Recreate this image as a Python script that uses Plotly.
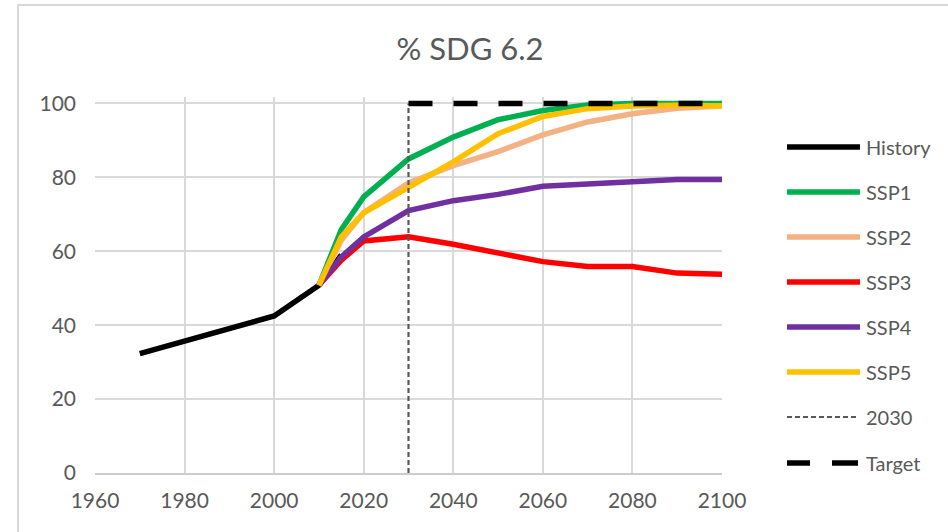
import plotly.graph_objects as go

# ---- data -------------------------------------------------------------
hist_years = [1970, 1980, 1990, 2000, 2010, 2015]
hist_vals = [32.3, 35.7, 39.1, 42.5, 50.8, 59.0]

ssp_years = [2010, 2015, 2020, 2030, 2040, 2050, 2060, 2070, 2080, 2090, 2100]
ssp1 = [50.8, 65.9, 74.7, 85.0, 90.9, 95.6, 98.1, 99.6, 100.0, 100.0, 100.0]
ssp2 = [50.8, 63.0, 70.5, 78.5, 83.2, 87.0, 91.5, 95.0, 97.2, 98.7, 99.3]
ssp3 = [50.8, 57.6, 62.8, 63.9, 61.9, 59.5, 57.2, 55.9, 55.9, 54.1, 53.8]
ssp4 = [50.8, 58.5, 63.9, 71.0, 73.7, 75.4, 77.6, 78.3, 78.7, 79.4, 79.4]
ssp5 = [50.8, 63.9, 70.4, 77.5, 84.2, 91.8, 96.5, 98.6, 99.3, 99.5, 99.3]

marker_year = [2030, 2030]
marker_vals = [0, 100]
target_years = [2030, 2100]
target_vals = [100, 100]

series_names = ["History", "SSP1", "SSP2", "SSP3", "SSP4", "SSP5", "2030", "Target"]
series_colors = ["#000000", "#00b050", "#f4b183", "#ff0000", "#7030a0", "#ffc000", "#595959", "#000000"]

x_ticks = [1960, 1980, 2000, 2020, 2040, 2060, 2080, 2100]
y_ticks = [0, 20, 40, 60, 80, 100]

TXT = "#595959"
GRID = "#d9d9d9"
FONT = "Lato"
LW = 5.5

fig = go.Figure()

fig.add_trace(go.Scatter(x=hist_years, y=hist_vals, mode="lines", name=series_names[0],
                         line=dict(color=series_colors[0], width=LW)))
for name, color, vals in zip(series_names[1:6], series_colors[1:6], [ssp1, ssp2, ssp3, ssp4, ssp5]):
    fig.add_trace(go.Scatter(x=ssp_years, y=vals, mode="lines", name=name,
                             line=dict(color=color, width=LW)))
fig.add_trace(go.Scatter(x=marker_year, y=marker_vals, mode="lines", name=series_names[6],
                         line=dict(color=series_colors[6], width=2.2, dash="5px,3px")))
fig.add_trace(go.Scatter(x=target_years, y=target_vals, mode="lines", name=series_names[7],
                         line=dict(color=series_colors[7], width=LW, dash="24px,21px")))

# ---- plot-area geometry (pixels) --------------------------------------
W, H = 948, 532
L, R, T, B = 95, 226, 97, 59
pw, ph = W - L - R, H - T - B
PX_PER_UNIT = 3.7          # vertical pixels per percentage point
Y_TOP = 100 + (103.5 - T) / PX_PER_UNIT   # headroom so the 100 % target isn't clipped


def px_x(px):
    return (px - L) / pw


def px_y(py):
    return (H - B - py) / ph


shapes = []
annotations = []

# outer chart frame (extends past the page edge)
shapes.append(dict(type="rect", xref="paper", yref="paper",
                   x0=px_x(18), x1=px_x(990), y0=px_y(570), y1=px_y(5),
                   line=dict(color=GRID, width=2), fillcolor="rgba(0,0,0,0)", layer="below"))

# legend drawn to the right of the plot
leg_rows = [147, 192, 237, 282, 327, 372, 417, 463]
lx0, lx1, ltx = 787, 860, 864
for name, color, py in zip(series_names, series_colors, leg_rows):
    yv = px_y(py)
    if name == "2030":
        shapes.append(dict(type="line", xref="paper", yref="paper", x0=px_x(lx0), x1=px_x(lx1 - 2),
                           y0=yv, y1=yv, line=dict(color=color, width=2, dash="5px,3px")))
    elif name == "Target":
        for a, b in [(lx0, 810), (832, lx1 - 2)]:
            shapes.append(dict(type="line", xref="paper", yref="paper", x0=px_x(a), x1=px_x(b),
                               y0=yv, y1=yv, line=dict(color=color, width=LW)))
    else:
        shapes.append(dict(type="line", xref="paper", yref="paper", x0=px_x(lx0), x1=px_x(lx1),
                           y0=yv, y1=yv, line=dict(color=color, width=LW)))
    annotations.append(dict(xref="paper", yref="paper", x=px_x(ltx), y=yv, text=name,
                            showarrow=False, xanchor="left", yanchor="middle",
                            font=dict(family=FONT, size=20, color=TXT)))

fig.update_layout(
    width=W, height=H,
    margin=dict(l=L, r=R, t=T, b=B, pad=0),
    paper_bgcolor="white", plot_bgcolor="white",
    showlegend=False,
    title=dict(text="% SDG 6.2", x=470 / W, xref="container", xanchor="center",
               y=1 - 49 / H, yref="container", yanchor="middle",
               font=dict(family=FONT, size=31, color=TXT)),
    shapes=shapes,
    annotations=annotations,
    font=dict(family=FONT, color=TXT),
)

fig.update_xaxes(range=[1960, 2100], tickvals=x_ticks, ticktext=[str(v) for v in x_ticks],
                 showgrid=True, gridcolor=GRID, gridwidth=2, zeroline=False,
                 showline=True, linecolor="#cccccc", linewidth=2,
                 ticks="", ticklabelstandoff=8,
                 tickfont=dict(family=FONT, size=21, color=TXT))
fig.update_yaxes(range=[0, Y_TOP], tickvals=y_ticks,
                 showgrid=True, gridcolor=GRID, gridwidth=2, zeroline=False,
                 showline=False, ticks="", ticklabelstandoff=18,
                 tickfont=dict(family=FONT, size=21, color=TXT))

fig.write_html("out.html")
